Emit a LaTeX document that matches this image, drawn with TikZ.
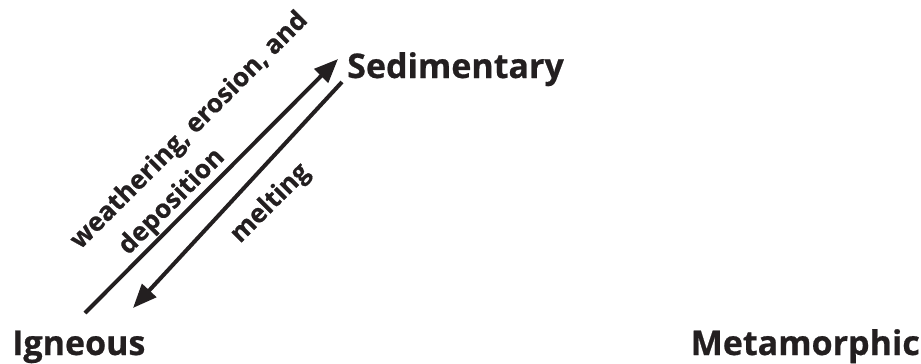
\documentclass[tikz,border=0pt]{standalone}
\usepackage{fontspec}
\setmainfont{Open Sans}
\newfontfamily\heavyfont{Open Sans}[BoldFeatures={FakeBold=0.6}]
\usetikzlibrary{arrows.meta}
\definecolor{ink}{HTML}{231F20}
\begin{document}
\begin{tikzpicture}[x=1pt,y=-1pt,
  rock/.style={font=\heavyfont\fontsize{34}{41}\selectfont\bfseries, text=ink, inner sep=0pt},
  lbl/.style={font=\heavyfont\fontsize{26}{38}\selectfont\bfseries, text=ink, inner sep=0pt, rotate=45},
  arr/.style={draw=ink, line width=4pt, -{Triangle[length=24pt,width=19pt]}}]
\useasboundingbox (0,0) rectangle (921,364);
\node[rock, anchor=base west] (sed) at (347,78) {Sedimentary};
\node[rock, anchor=base west] (ign) at (12,355) {Igneous};
\node[rock, anchor=base east] (met) at (920,355) {Metamorphic};
\coordinate (upS) at (85,313);
\coordinate (upE) at (338,59);
\coordinate (dnS) at (342,82);
\coordinate (dnE) at (133,308);
\draw[arr] (upS) -- (upE);
\draw[arr] (dnS) -- (dnE);
\node[lbl, anchor=base west, align=left] (wed) at (107,277) {weathering, erosion, and\\\hspace*{30pt}deposition};
\node[lbl, anchor=base west] (melt) at (240,244) {melting};
\end{tikzpicture}
\end{document}
